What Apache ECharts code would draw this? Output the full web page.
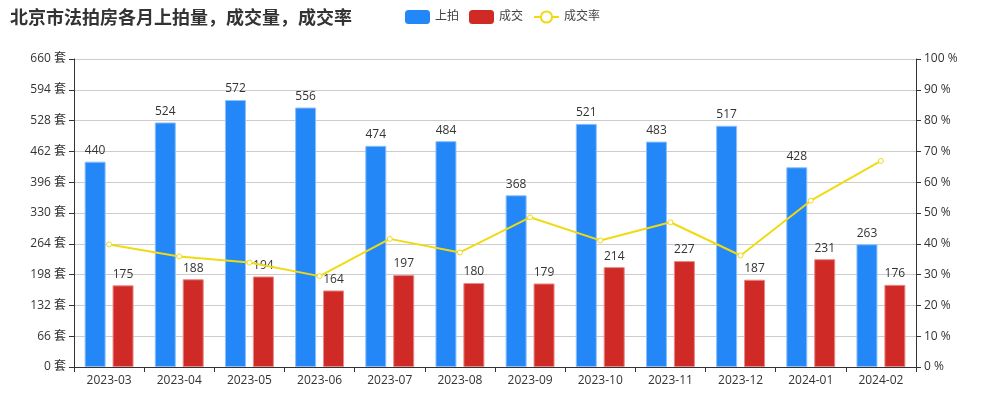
<!DOCTYPE html>
<html><head><meta charset="utf-8">
<script src="https://cdn.jsdelivr.net/npm/echarts@6/dist/echarts.min.js"></script>
<style>html,body{margin:0;padding:0;background:#fff}#c{width:1000px;height:400px}</style>
</head><body><div id="c"></div>
<script>
const months = ['2023-03','2023-04','2023-05','2023-06','2023-07','2023-08','2023-09','2023-10','2023-11','2023-12','2024-01','2024-02'];
const listed = [440,524,572,556,474,484,368,521,483,517,428,263];
const sold = [175,188,194,164,197,180,179,214,227,187,231,176];
const rate = [39.8,35.9,33.9,29.5,41.6,37.2,48.6,41.1,47.0,36.2,54.0,66.9];

const chart = echarts.init(document.getElementById('c'), null, {renderer:'canvas'});
const fontFamily = '"Open Sans","Noto Sans CJK SC",sans-serif';
chart.setOption({
  animation:false,
  textStyle:{fontFamily},
  title:{text:'北京市法拍房各月上拍量，成交量，成交率',left:5,top:3,textStyle:{fontSize:18,fontWeight:'bold',color:'#333',fontFamily:'"Noto Sans CJK SC",sans-serif'}},
  legend:{left:400,top:5,itemWidth:25,itemHeight:14,itemGap:10,textStyle:{fontSize:12,color:'#444'},
    data:[{name:'上拍',itemStyle:{borderWidth:0}},{name:'成交',itemStyle:{borderWidth:0}},'成交率']},
  grid:{left:74,right:84,top:59,bottom:33},
  xAxis:{type:'category',data:months,axisLine:{lineStyle:{color:'#333'}},axisTick:{show:true},
    axisLabel:{color:'#333',fontSize:12}},
  yAxis:[
    {type:'value',min:0,max:660,interval:66,axisLine:{show:true,lineStyle:{color:'#333'}},axisTick:{show:true},
      axisLabel:{formatter:'{value} 套',color:'#333',fontSize:12},splitLine:{lineStyle:{color:'#ccc'}}},
    {type:'value',min:0,max:100,interval:10,axisLine:{show:true,lineStyle:{color:'#333'}},axisTick:{show:true},
      axisLabel:{formatter:'{value} %',color:'#333',fontSize:12},splitLine:{show:false}}
  ],
  series:[
    {name:'上拍',type:'bar',data:listed,barWidth:21,barGap:'33%',
      itemStyle:{color:'#2387f7',borderColor:'#8fc0fb',borderWidth:1},
      label:{show:true,position:'top',color:'#333',fontSize:12}},
    {name:'成交',type:'bar',data:sold,barWidth:21,
      itemStyle:{color:'#cf2a25',borderColor:'#e88a87',borderWidth:1},
      label:{show:true,position:'top',color:'#333',fontSize:12}},
    {name:'成交率',type:'line',yAxisIndex:1,data:rate,symbol:'circle',symbolSize:5,
      lineStyle:{color:'#f0da14',width:2},itemStyle:{color:'#fff',borderColor:'#f0da14',borderWidth:1},
      z:5}
  ]
});
</script></body></html>
